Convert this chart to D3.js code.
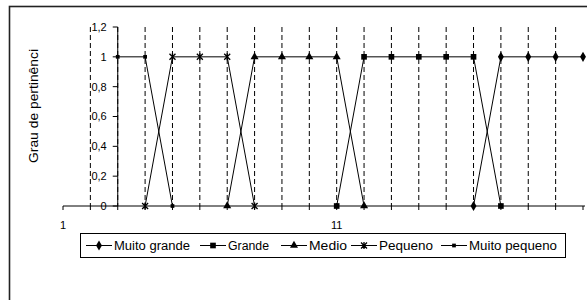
<!DOCTYPE html>
<html>
<head>
<script src="https://d3js.org/d3.v7.min.js"></script>
<style>
  body { margin: 0; background: #fff; }
  text { font-family: "Liberation Sans", Arial, sans-serif; fill: #000; }
</style>
</head>
<body>
<svg id="svg" width="587" height="300"></svg>
<script>
// categories on the x axis
var categories = [1, 2, 3, 4, 5, 6, 7, 8, 9, 10, 11, 12, 13, 14, 15, 16, 17, 18, 19, 20];
var xLabels = ["1", "11"];
var yTicks = [0, 0.2, 0.4, 0.6, 0.8, 1, 1.2];
var seriesNames = ["Muito grande", "Grande", "Medio", "Pequeno", "Muito pequeno"];

// membership values, null where the series has no point
var muitoGrande = [null, null, null, null, null, null, null, null, null, null, null, null, null, null, null, 0, 1, 1, 1, 1];
var grande = [null, null, null, null, null, null, null, null, null, null, 0, 1, 1, 1, 1, 1, 0, null, null, null];
var medio = [null, null, null, null, null, null, 0, 1, 1, 1, 1, 0, null, null, null, null, null, null, null, null];
var pequeno = [null, null, null, 0, 1, 1, 1, 0, null, null, null, null, null, null, null, null, null, null, null, null];
var muitoPequeno = [null, null, 1, 1, 0, null, null, null, null, null, null, null, null, null, null, null, null, null, null, null];

var series = [muitoGrande, grande, medio, pequeno, muitoPequeno];
var markers = ["diamond", "square", "triangle", "star", "small"];

var svg = d3.select("#svg");
svg.append("rect").attr("x", 9.5).attr("y", 6.5).attr("width", 600).attr("height", 320)
    .attr("fill", "none").attr("stroke", "#222").attr("stroke-width", 1.6);

var x = d3.scalePoint().domain(categories).range([63, 583]);
var y = d3.scaleLinear().domain([0, 1.2]).range([206, 27]);
var yAxisX = x(3);

// dashed vertical gridlines
svg.append("g").selectAll("line")
    .data(categories.slice(1, -1))
    .enter().append("line")
    .attr("x1", d => x(d)).attr("x2", d => x(d))
    .attr("y1", y(1.2)).attr("y2", y(0))
    .attr("stroke", "#000").attr("stroke-dasharray", "5,3");

// y axis
svg.append("line").attr("x1", yAxisX).attr("x2", yAxisX).attr("y1", y(1.2)).attr("y2", y(0)).attr("stroke", "#000");
var yt = svg.append("g").selectAll("g").data(yTicks).enter().append("g");
yt.append("line").attr("x1", yAxisX - 5).attr("x2", yAxisX).attr("y1", d => y(d)).attr("y2", d => y(d)).attr("stroke", "#000");
yt.append("text").attr("x", yAxisX - 11).attr("y", d => y(d)).attr("dy", "0.35em")
    .attr("text-anchor", "end").style("font-size", "11px")
    .text(d => String(d).replace(".", ","));

// x axis
svg.append("line").attr("x1", x(1)).attr("x2", x(20) + 2).attr("y1", y(0)).attr("y2", y(0)).attr("stroke", "#000");
svg.append("g").selectAll("line").data(categories).enter().append("line")
    .attr("x1", d => x(d)).attr("x2", d => x(d)).attr("y1", y(0)).attr("y2", y(0) + 4).attr("stroke", "#000");
svg.append("g").selectAll("text").data(xLabels).enter().append("text")
    .attr("x", d => x(+d)).attr("y", 229).attr("text-anchor", "middle").style("font-size", "11px").text(d => d);

// axis title
svg.append("text").attr("transform", "translate(38,106) rotate(-90)")
    .attr("text-anchor", "middle").style("font-size", "12px")
    .attr("textLength", 114).attr("lengthAdjust", "spacingAndGlyphs")
    .text("Grau de pertinênci");

function marker(sel, type) {
    if (type == "diamond") sel.append("path").attr("d", d3.symbol(d3.symbolDiamond, 30)());
    else if (type == "square") sel.append("path").attr("d", d3.symbol(d3.symbolSquare, 32)());
    else if (type == "triangle") sel.append("path").attr("d", d3.symbol(d3.symbolTriangle, 28)());
    else if (type == "small") sel.append("path").attr("d", d3.symbol(d3.symbolSquare, 14)());
    else if (type == "star") {
        sel.append("path").attr("d", "M-3,-3L3,3M-3,3L3,-3M0,-3.5L0,3.5").attr("stroke", "#000").attr("stroke-width", 1.3);
    }
}

var line = d3.line().defined(d => d != null).x((d, i) => x(categories[i])).y(d => y(d));

series.forEach(function (s, k) {
    svg.append("path").attr("d", line(s)).attr("fill", "none").attr("stroke", "#000").attr("stroke-width", 1);
    s.forEach(function (v, i) {
        if (v == null) return;
        var g = svg.append("g").attr("transform", "translate(" + x(categories[i]) + "," + y(v) + ")").attr("fill", "#000");
        marker(g, markers[k]);
    });
});

// legend
svg.append("rect").attr("x", 80.5).attr("y", 233.5).attr("width", 485).attr("height", 24)
    .attr("fill", "none").attr("stroke", "#000");
var legendX = [86, 200, 281, 351, 441];
var legendW = [76, 41, 38, 54, 88];
seriesNames.forEach(function (name, k) {
    var lx = legendX[k];
    svg.append("line").attr("x1", lx).attr("x2", lx + 26).attr("y1", 245.5).attr("y2", 245.5).attr("stroke", "#000");
    var g = svg.append("g").attr("transform", "translate(" + (lx + 13) + ",245.5)").attr("fill", "#000");
    marker(g, markers[k]);
    svg.append("text").attr("x", lx + 28).attr("y", 245.5).attr("dy", "0.35em").style("font-size", "12px")
        .attr("textLength", legendW[k]).attr("lengthAdjust", "spacingAndGlyphs").text(name);
});
</script>
</body>
</html>
